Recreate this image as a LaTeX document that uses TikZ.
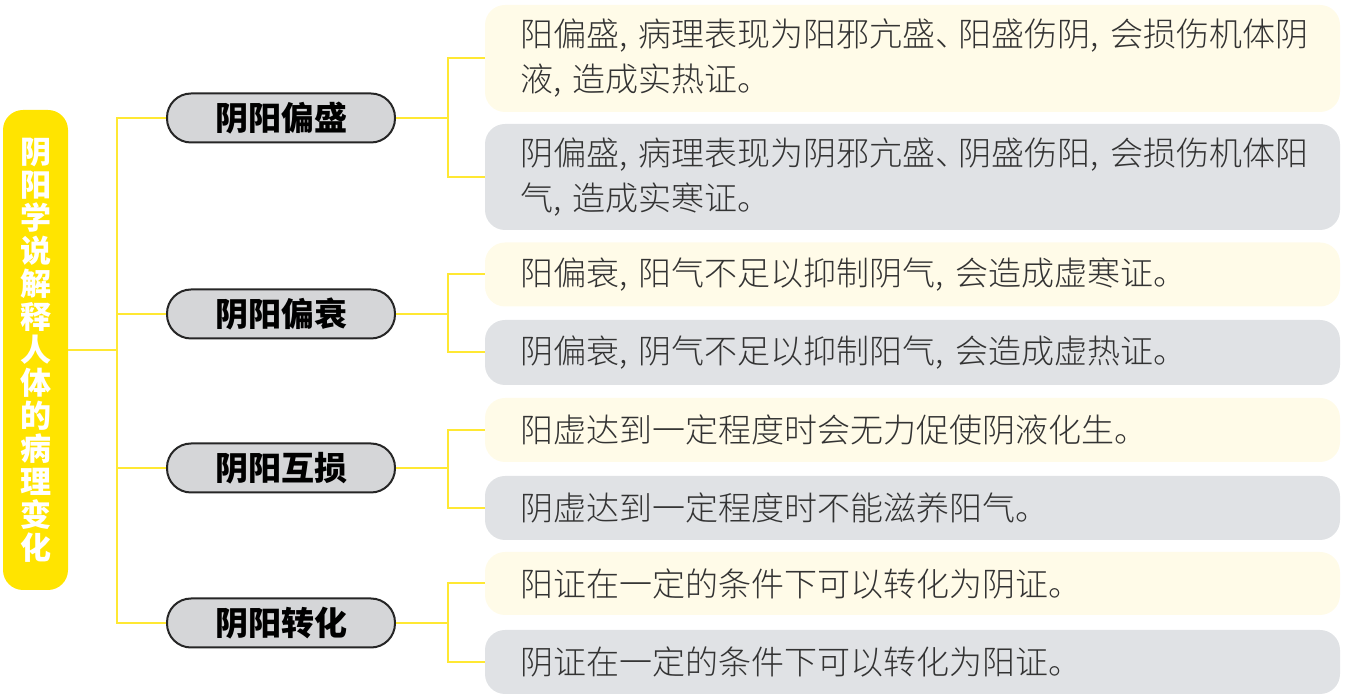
\documentclass[tikz,border=0pt]{standalone}
\usepackage{fontspec}
\setmainfont{Noto Sans CJK SC}
\newfontfamily\lightcjk{Noto Sans CJK SC}[UprightFont=* Light]
\usepackage{xcolor}
\usetikzlibrary{positioning}
\definecolor{rootyellow}{HTML}{FFE400}
\definecolor{lineyellow}{HTML}{FFE833}
\definecolor{branchgray}{HTML}{D5D6D8}
\definecolor{leafyellow}{HTML}{FFFBE8}
\definecolor{leafgray}{HTML}{E0E2E5}
\definecolor{textgray}{HTML}{333333}
\newcommand\dou{\makebox[0.6em][l]{,}} % comma
\newcommand\dun{\makebox[0.7em][l]{、}} % enumeration comma
\tikzset{%
	root/.style     = {fill=rootyellow, rounded corners=10pt, minimum width=32.5pt, minimum height=240pt, inner sep=0pt, text=white, align=center, font=\bfseries\fontsize{15.5}{16.5}\selectfont},
	branch/.style   = {draw=black!85, line width=1pt, fill=branchgray, rounded corners=12pt, minimum width=114pt, minimum height=24.5pt, font=\bfseries\fontsize{16.5}{18}\selectfont},
	leaf/.style     = {rounded corners=10pt, text width=392.5pt, inner xsep=17.5pt, inner ysep=0pt, align=left, text=textgray, font=\lightcjk\fontsize{16.5}{22.5}\selectfont},
	yangleaf/.style = {leaf, fill=leafyellow}, % yang side
	yinleaf/.style  = {leaf, fill=leafgray}, % yin side
	link/.style     = {draw=lineyellow, line width=1pt},
}
\begin{document}
\begin{tikzpicture}[x=0.5pt, y=-0.5pt]
	\useasboundingbox (0,0) rectangle (1356,699);
	\node[root] (root) at (35.5,350) {阴\\阳\\学\\说\\解\\释\\人\\体\\的\\病\\理\\变\\化};
	\coordinate (trunk) at (117,350);
	
	\node[branch] (b1) at (281,118) {阴阳偏盛};
	\node[branch] (b2) at (281,314) {阴阳偏衰};
	\node[branch] (b3) at (281,468) {阴阳互损};
	\node[branch] (b4) at (281,623) {阴阳转化};
	
	\node[yangleaf, minimum height=53.5pt] (l1) at (912.5,58.5) {阳偏盛\dou 病理表现为阳邪亢盛\dun 阳盛伤阴\dou 会损伤机体阴\\液\dou 造成实热证。};
	\node[yinleaf, minimum height=53pt] (l2) at (912.5,177) {阴偏盛\dou 病理表现为阴邪亢盛\dun 阴盛伤阳\dou 会损伤机体阳\\气\dou 造成实寒证。};
	\node[yangleaf, minimum height=32pt] (l3) at (912.5,274.5) {阳偏衰\dou 阳气不足以抑制阴气\dou 会造成虚寒证。};
	\node[yinleaf, minimum height=32.5pt] (l4) at (912.5,352.5) {阴偏衰\dou 阴气不足以抑制阳气\dou 会造成虚热证。};
	\node[yangleaf, minimum height=32pt] (l5) at (912.5,430) {阳虚达到一定程度时会无力促使阴液化生。};
	\node[yinleaf, minimum height=32pt] (l6) at (912.5,508) {阴虚达到一定程度时不能滋养阳气。};
	\node[yangleaf, minimum height=31.5pt] (l7) at (912.5,583.5) {阳证在一定的条件下可以转化为阴证。};
	\node[yinleaf, minimum height=32pt] (l8) at (912.5,662) {阴证在一定的条件下可以转化为阳证。};
	
	\draw[link] (root.east) -- (trunk);
	\foreach \b in {1,2,3,4}
	{
		\draw[link] (trunk) |- (b\b.west);
		\coordinate[right=26pt of b\b] (j\b);
	}
	\foreach \b/\y/\n in {1/1/2,2/3/4,3/5/6,4/7/8}
	{
		\draw[link] (b\b.east) -- (j\b);
		\draw[link] (l\y.west) -| (j\b) |- (l\n.west);
	}
\end{tikzpicture}
\end{document}
